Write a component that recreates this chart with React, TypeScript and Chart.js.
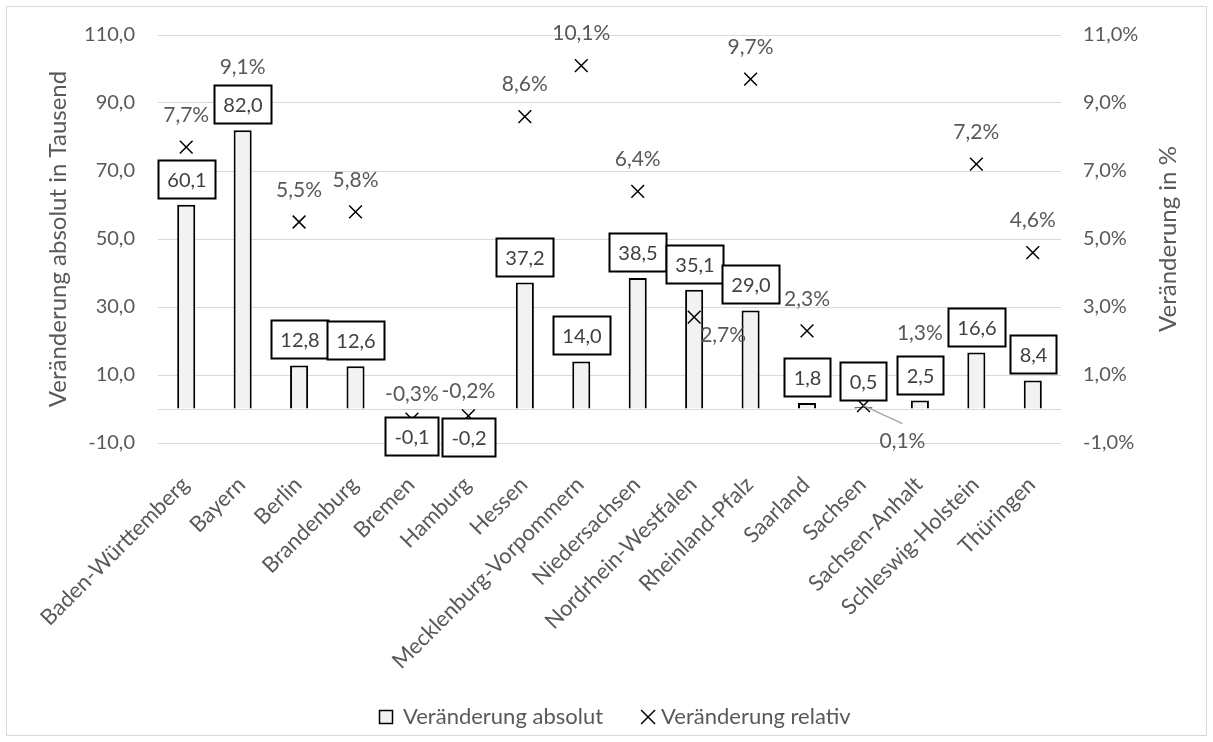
import React, { useEffect, useRef } from 'react';
import { Chart, registerables } from 'chart.js';

Chart.register(...registerables);

const categories = [
  'Baden-Württemberg', 'Bayern', 'Berlin', 'Brandenburg', 'Bremen', 'Hamburg', 'Hessen',
  'Mecklenburg-Vorpommern', 'Niedersachsen', 'Nordrhein-Westfalen', 'Rheinland-Pfalz',
  'Saarland', 'Sachsen', 'Sachsen-Anhalt', 'Schleswig-Holstein', 'Thüringen',
];
const absoluteChange = [60.1, 82.0, 12.8, 12.6, -0.1, -0.2, 37.2, 14.0, 38.5, 35.1, 29.0, 1.8, 0.5, 2.5, 16.6, 8.4];
const relativeChange = [7.7, 9.1, 5.5, 5.8, -0.3, -0.2, 8.6, 10.1, 6.4, 2.7, 9.7, 2.3, 0.1, 1.3, 7.2, 4.6];
const leftTicks = [-10, 0, 10, 30, 50, 70, 90, 110];
const rightTicks = [-1, 1, 3, 5, 7, 9, 11];
const seriesNames = ['Veränderung absolut', 'Veränderung relativ'];
const axisTitles = ['Veränderung absolut in Tausend', 'Veränderung in %'];

// label placement tweaks (layout only)
const pctLabelAdjust: Record<number, { dx: number; dy: number; leader?: boolean }> = {
  4: { dx: 0, dy: -25 },
  5: { dx: 0, dy: -25 },
  9: { dx: 29, dy: 18 },
  12: { dx: 39, dy: 36, leader: true },
};

const FONT = 'Lato, "Open Sans", sans-serif';
const fmt1 = (v: number) => v.toFixed(1).replace('.', ',');

const excelPlugin = {
  id: 'excelLook',
  beforeDraw(chart: any) {
    const ctx = chart.ctx;
    ctx.save();
    ctx.fillStyle = '#ffffff';
    ctx.fillRect(0, 0, chart.width, chart.height);
    ctx.strokeStyle = '#d9d9d9';
    ctx.lineWidth = 1;
    ctx.strokeRect(6.5, 6.5, chart.width - 13, chart.height - 13);
    ctx.restore();
  },
  afterDatasetsDraw(chart: any) {
    const ctx = chart.ctx;
    const barMeta = chart.getDatasetMeta(0);
    const lineMeta = chart.getDatasetMeta(1);
    ctx.save();
    ctx.textAlign = 'center';
    ctx.textBaseline = 'middle';

    // percent labels
    ctx.font = `21px ${FONT}`;
    lineMeta.data.forEach((pt: any, i: number) => {
      const adj = pctLabelAdjust[i] || { dx: 0, dy: -32 };
      const lx = pt.x + adj.dx;
      const ly = pt.y + adj.dy;
      if (adj.leader) {
        ctx.strokeStyle = '#a6a6a6';
        ctx.lineWidth = 1.5;
        ctx.beginPath();
        ctx.moveTo(pt.x, pt.y);
        ctx.lineTo(lx, ly - 18);
        ctx.stroke();
      }
      ctx.fillStyle = '#595959';
      ctx.fillText(fmt1(relativeChange[i]) + '%', lx, ly);
    });

    // boxed bar labels
    ctx.font = `20px ${FONT}`;
    barMeta.data.forEach((bar: any, i: number) => {
      const v = absoluteChange[i];
      const text = fmt1(v);
      const w = Math.round(ctx.measureText(text).width + 18);
      const h = 38;
      const x = Math.round(bar.x - w / 2) + 0.5;
      const y = v >= 0 ? Math.round(bar.y - 7 - h) + 0.5 : Math.round(bar.y + 8) + 0.5;
      ctx.fillStyle = '#ffffff';
      ctx.fillRect(x, y, w, h);
      ctx.strokeStyle = '#000000';
      ctx.lineWidth = 2;
      ctx.strokeRect(x, y, w, h);
      ctx.fillStyle = '#404040';
      ctx.fillText(text, x + w / 2, y + h / 2 + 1);
    });
    ctx.restore();
  },
  afterDraw(chart: any) {
    const ctx = chart.ctx;
    const area = chart.chartArea;
    const cy = (area.top + area.bottom) / 2;
    const xScale = chart.scales.x;
    ctx.save();
    ctx.fillStyle = '#595959';

    // category labels, rotated 45°
    ctx.font = `22px ${FONT}`;
    ctx.textAlign = 'right';
    ctx.textBaseline = 'alphabetic';
    categories.forEach((c, i) => {
      const px = xScale.getPixelForTick(i);
      ctx.save();
      ctx.translate(px + 4, area.bottom + 43);
      ctx.rotate(-Math.PI / 4);
      ctx.fillText(c, 0, 0);
      ctx.restore();
    });

    // axis titles
    ctx.font = `24px ${FONT}`;
    ctx.textAlign = 'center';
    ctx.textBaseline = 'middle';
    [[58, axisTitles[0]], [1168, axisTitles[1]]].forEach(([tx, t]: any) => {
      ctx.save();
      ctx.translate(tx, cy);
      ctx.rotate(-Math.PI / 2);
      ctx.fillText(t, 0, 0);
      ctx.restore();
    });

    // legend
    ctx.font = `22px ${FONT}`;
    const ly = 717;
    let x = 379;
    ctx.fillStyle = '#f2f2f2';
    ctx.fillRect(x, ly - 7, 14, 14);
    ctx.strokeStyle = '#000';
    ctx.lineWidth = 1.5;
    ctx.strokeRect(x + 0.5, ly - 6.5, 13, 13);
    x += 24;
    ctx.textAlign = 'left';
    ctx.fillStyle = '#595959';
    ctx.fillText(seriesNames[0], x, ly);
    x += ctx.measureText(seriesNames[0]).width + 38;
    ctx.strokeStyle = '#000';
    ctx.lineWidth = 1.5;
    ctx.beginPath();
    ctx.moveTo(x, ly - 7);
    ctx.lineTo(x + 14, ly + 7);
    ctx.moveTo(x + 14, ly - 7);
    ctx.lineTo(x, ly + 7);
    ctx.stroke();
    x += 20;
    ctx.fillText(seriesNames[1], x, ly);
    ctx.restore();
  },
};

export default function App() {
  const canvasRef = useRef<HTMLCanvasElement | null>(null);

  useEffect(() => {
    document.body.style.margin = '0';
    const canvas = canvasRef.current;
    if (!canvas) return;
    const chart = new Chart(canvas, {
      type: 'bar',
      data: {
        labels: categories,
        datasets: [
          {
            type: 'bar',
            label: seriesNames[0],
            data: absoluteChange,
            backgroundColor: '#f2f2f2',
            borderColor: '#000000',
            borderWidth: 2,
            barPercentage: 0.32,
            categoryPercentage: 1,
            yAxisID: 'y',
            order: 2,
          } as any,
          {
            type: 'line',
            label: seriesNames[1],
            data: relativeChange,
            showLine: false,
            pointStyle: 'crossRot',
            pointRadius: 9,
            pointBorderWidth: 1.5,
            pointBorderColor: '#000000',
            pointBackgroundColor: '#000000',
            borderColor: '#000000',
            yAxisID: 'y1',
            order: 1,
          } as any,
        ],
      },
      options: {
        responsive: false,
        animation: false,
        devicePixelRatio: 1,
        layout: { padding: { top: 35, left: 0, right: 0, bottom: 0 } },
        plugins: {
          legend: { display: false },
          tooltip: { enabled: false },
        },
        scales: {
          x: {
            grid: { display: false },
            border: { display: false },
            ticks: { display: false, autoSkip: false },
            afterFit(scale: any) {
              scale.height = 742 - 443;
            },
          },
          y: {
            position: 'left',
            min: -10,
            max: 110,
            grid: { color: '#d9d9d9', lineWidth: 1, drawTicks: false },
            border: { display: false },
            afterBuildTicks(scale: any) {
              scale.ticks = leftTicks.map((v) => ({ value: v }));
            },
            ticks: {
              padding: 23,
              color: '#595959',
              font: { family: FONT, size: 20 },
              callback: (v: any) => (Number(v) === 0 ? '' : fmt1(Number(v))),
            },
            afterFit(scale: any) {
              scale.width = 158;
            },
          },
          y1: {
            position: 'right',
            min: -1,
            max: 11,
            grid: { drawOnChartArea: false, drawTicks: false },
            border: { display: false },
            afterBuildTicks(scale: any) {
              scale.ticks = rightTicks.map((v) => ({ value: v }));
            },
            ticks: {
              padding: 22,
              color: '#595959',
              font: { family: FONT, size: 20 },
              callback: (v: any) => fmt1(Number(v)) + '%',
            },
            afterFit(scale: any) {
              scale.width = 152;
            },
          },
        },
      } as any,
      plugins: [excelPlugin],
    });
    return () => chart.destroy();
  }, []);

  return (
    <div style={{ position: 'absolute', left: 0, top: 0, width: 1213, height: 742 }}>
      <canvas ref={canvasRef} width={1213} height={742} style={{ width: 1213, height: 742 }} />
    </div>
  );
}
